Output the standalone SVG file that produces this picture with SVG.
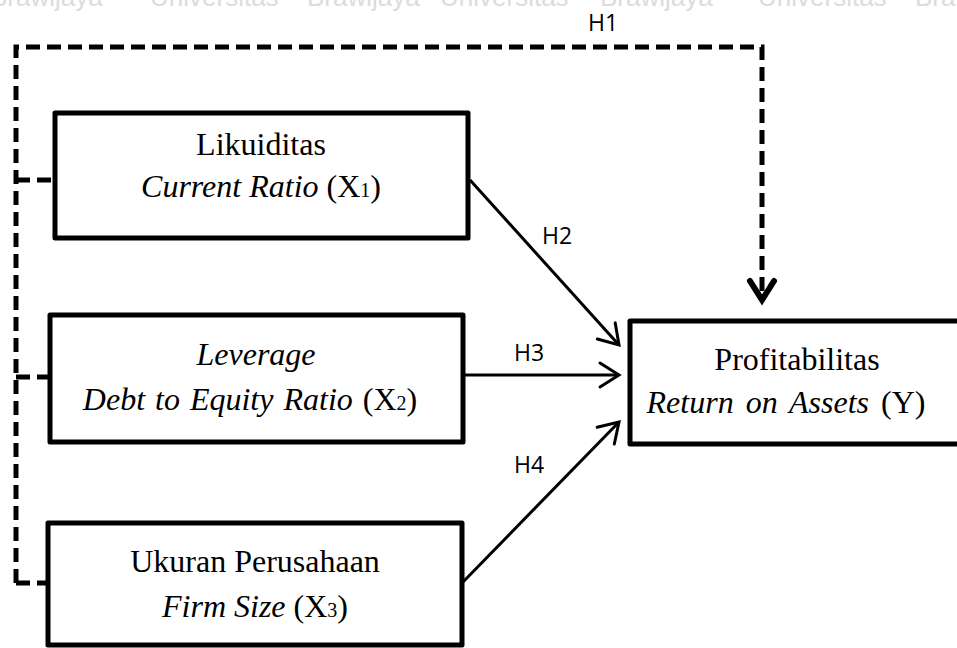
<svg xmlns="http://www.w3.org/2000/svg" width="957" height="648" viewBox="0 0 957 648">
<style>
.box{fill:#fff;stroke:#000;stroke-width:5;stroke-linejoin:round}
.t{font-family:"Liberation Serif","Times New Roman",serif;font-size:32px;fill:#000;text-anchor:middle}
.i{font-style:italic}
.sub{font-size:20px}
.lbl{font-family:"Open Sans","Liberation Sans",sans-serif;font-size:23px;fill:#000}
.wm{font-family:"Liberation Sans",Arial,sans-serif;font-size:26px;fill:#dcdcdc}
.solid{fill:none;stroke:#000;stroke-width:3}
.dash{fill:none;stroke:#000;stroke-width:5;stroke-dasharray:14 7}
</style>
<defs>
<marker id="ah" markerUnits="userSpaceOnUse" markerWidth="40" markerHeight="40" viewBox="-25 -20 30 40" refX="0" refY="0" orient="auto" overflow="visible">
<path d="M-19,-12 L0,0 L-19,12" fill="none" stroke="#000" stroke-width="3" stroke-linecap="round" stroke-linejoin="miter"/>
</marker>
<marker id="ahd" markerUnits="userSpaceOnUse" markerWidth="40" markerHeight="40" viewBox="-25 -20 30 40" refX="0" refY="0" orient="auto" overflow="visible">
<path d="M-19,-12 L0,0 L-19,12" fill="none" stroke="#000" stroke-width="6" stroke-linecap="round" stroke-linejoin="miter"/>
</marker>
</defs>
<rect width="957" height="648" fill="#fff"/>
<g id="watermark">
<text class="wm" x="-10" y="6">Brawijaya</text>
<text class="wm" x="150" y="6">Universitas</text>
<text class="wm" x="307" y="6">Brawijaya</text>
<text class="wm" x="440" y="6">Universitas</text>
<text class="wm" x="600" y="6">Brawijaya</text>
<text class="wm" x="758" y="6">Universitas</text>
<text class="wm" x="915" y="6">Bra</text>
</g>
<g id="connectors">
<path class="dash" d="M16,583 L16,47 L762,47 L762,300" marker-end="url(#ahd)"/>
<path class="dash" d="M16,180 L55,180"/>
<path class="dash" d="M16,377 L50,377"/>
<path class="dash" d="M16,583 L48,583"/>
<path class="solid" d="M470,180 L619,345" marker-end="url(#ah)"/>
<path class="solid" d="M463,375 L619,375" marker-end="url(#ah)"/>
<path class="solid" d="M462,583 L619,422" marker-end="url(#ah)"/>
<text class="lbl" x="588" y="31">H1</text>
<text class="lbl" x="542" y="244">H2</text>
<text class="lbl" x="514" y="361">H3</text>
<text class="lbl" x="514" y="473">H4</text>
</g>
<g id="x1">
<rect class="box" x="55" y="113" width="413" height="125"/>
<text class="t" x="261" y="155">Likuiditas</text>
<text class="t" x="261" y="197"><tspan class="i">Current Ratio</tspan> (X<tspan class="sub">1</tspan>)</text>
</g>
<g id="x2">
<rect class="box" x="50" y="315" width="413" height="127"/>
<text class="t i" x="256" y="365">Leverage</text>
<text class="t" x="250" y="410" word-spacing="2"><tspan class="i">Debt to Equity Ratio</tspan> (X<tspan class="sub">2</tspan>)</text>
</g>
<g id="x3">
<rect class="box" x="48" y="523" width="414" height="122"/>
<text class="t" x="255" y="572">Ukuran Perusahaan</text>
<text class="t" x="255" y="617"><tspan class="i">Firm Size</tspan> (X<tspan class="sub">3</tspan>)</text>
</g>
<g id="y">
<rect class="box" x="630" y="321" width="340" height="123"/>
<text class="t" x="797" y="370">Profitabilitas</text>
<text class="t" x="786" y="413" word-spacing="4"><tspan class="i">Return on Assets</tspan> (Y)</text>
</g>
</svg>
